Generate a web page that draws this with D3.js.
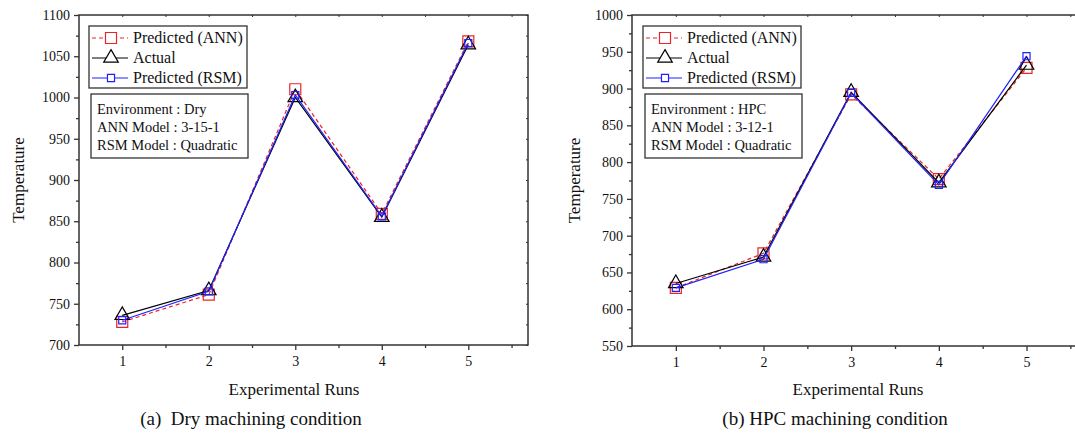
<!DOCTYPE html>
<html>
<head>
<meta charset="utf-8">
<script src="https://cdn.jsdelivr.net/npm/d3@7"></script>
<style>
  body { margin: 0; background: #fff; }
  svg text { font-family: "Liberation Serif", "Times New Roman", Times, serif !important; }
</style>
</head>
<body>
<svg id="chart" width="1075" height="433"></svg>
<script>
// experimental runs
var runs = [1, 2, 3, 4, 5];

// (a) dry machining
var dryAnn = [728, 761, 1010, 859, 1068];
var dryActual = [736, 766, 1000, 855, 1064];
var dryRsm = [730, 765, 1003, 856, 1066];

// (b) HPC machining
var hpcAnn = [629, 676, 892, 777, 928];
var hpcActual = [635, 671, 895, 772, 932];
var hpcRsm = [629, 668, 894, 769, 944];

var seriesNames = ["Predicted (ANN)", "Actual", "Predicted (RSM)"];
var dryInfo = ["Environment : Dry", "ANN Model : 3-15-1", "RSM Model : Quadratic"];
var hpcInfo = ["Environment : HPC", "ANN Model : 3-12-1", "RSM Model : Quadratic"];
var dryTicks = [700, 750, 800, 850, 900, 950, 1000, 1050, 1100];
var hpcTicks = [550, 600, 650, 700, 750, 800, 850, 900, 950, 1000];

var FONT = "'Liberation Serif', 'Times New Roman', Times, serif";
var svg = d3.select("#chart");

var styles = [
  {color: "#e8262a", dash: "4,3", sym: d3.symbolSquare, size: 121},
  {color: "#000000", dash: null, sym: d3.symbolTriangle, size: 92},
  {color: "#2020ff", dash: null, sym: d3.symbolSquare, size: 50}
];

function drawPanel(opt) {
  var x = d3.scaleLinear().domain([0.5, 5.69]).range([opt.left, opt.right]);
  var y = d3.scaleLinear().domain(opt.yDomain).range([opt.bottom, opt.top]);
  var g = svg.append("g").attr("font-family", FONT);

  // frame
  g.append("rect")
    .attr("x", opt.left).attr("y", opt.top)
    .attr("width", opt.right - opt.left).attr("height", opt.bottom - opt.top)
    .attr("fill", "none").attr("stroke", "#333").attr("stroke-width", 1.5);

  var minorY = d3.range(opt.yDomain[0] + 25, opt.yDomain[1], 50);
  var minorX = [1.5, 2.5, 3.5, 4.5, 5.5];

  // left axis
  var ay = g.append("g").attr("transform", "translate(" + opt.left + ",0)")
    .call(d3.axisLeft(y).tickValues(opt.ticks).tickSize(5).tickPadding(4).tickFormat(d3.format("d")));
  ay.attr("font-family", FONT);
  ay.select(".domain").remove();
  ay.selectAll("line").attr("stroke", "#333").attr("stroke-width", 1.3);
  ay.selectAll("text").attr("font-size", 14).attr("fill", "#111");
  g.append("g").attr("transform", "translate(" + opt.left + ",0)")
    .call(d3.axisLeft(y).tickValues(minorY).tickSize(3).tickFormat(""))
    .call(function(s) { s.select(".domain").remove(); s.selectAll("line").attr("stroke", "#333").attr("stroke-width", 1.3); });

  // bottom axis
  var ax = g.append("g").attr("transform", "translate(0," + opt.bottom + ")")
    .call(d3.axisBottom(x).tickValues(runs).tickSize(5).tickPadding(6).tickFormat(d3.format("d")));
  ax.attr("font-family", FONT);
  ax.select(".domain").remove();
  ax.selectAll("line").attr("stroke", "#333").attr("stroke-width", 1.3);
  ax.selectAll("text").attr("font-size", 14).attr("fill", "#111");
  g.append("g").attr("transform", "translate(0," + opt.bottom + ")")
    .call(d3.axisBottom(x).tickValues(minorX).tickSize(3).tickFormat(""))
    .call(function(s) { s.select(".domain").remove(); s.selectAll("line").attr("stroke", "#333").attr("stroke-width", 1.3); });

  // mirror ticks top / right
  g.append("g").attr("transform", "translate(0," + opt.top + ")")
    .call(d3.axisBottom(x).tickValues(runs.concat(minorX)).tickSize(2).tickFormat(""))
    .call(function(s) { s.select(".domain").remove(); s.selectAll("line").attr("stroke", "#333"); });
  g.append("g").attr("transform", "translate(" + opt.right + ",0)")
    .call(d3.axisLeft(y).tickValues(opt.ticks.concat(minorY)).tickSize(2).tickFormat(""))
    .call(function(s) { s.select(".domain").remove(); s.selectAll("line").attr("stroke", "#333"); });

  // axis titles
  g.append("text")
    .attr("transform", "translate(" + opt.yTitleX + "," + ((opt.top + opt.bottom) / 2) + ") rotate(-90)")
    .attr("text-anchor", "middle").attr("font-size", 17).attr("fill", "#111")
    .text("Temperature");
  g.append("text")
    .attr("x", opt.xTitleX).attr("y", 395)
    .attr("text-anchor", "middle").attr("font-size", 17).attr("fill", "#111")
    .text("Experimental Runs");
  g.append("text")
    .attr("x", opt.captionX).attr("y", 425)
    .attr("text-anchor", "middle").attr("font-size", 19).attr("fill", "#111")
    .style("white-space", "pre")
    .text(opt.caption);

  // series
  var line = d3.line().x(function(d, i) { return x(runs[i]); }).y(function(d) { return y(d); });
  opt.series.forEach(function(vals, k) {
    var st = styles[k];
    g.append("path").datum(vals)
      .attr("d", line).attr("fill", "none")
      .attr("stroke", st.color).attr("stroke-width", 1.2)
      .attr("stroke-dasharray", st.dash);
    g.selectAll(null).data(vals).enter().append("path")
      .attr("d", d3.symbol(st.sym, st.size))
      .attr("transform", function(d, i) { return "translate(" + x(runs[i]) + "," + y(d) + ")"; })
      .attr("fill", "none").attr("stroke", st.color).attr("stroke-width", 1.2);
  });

  // legend
  var lg = g.append("g");
  lg.append("rect").attr("x", opt.legX).attr("y", 26).attr("width", 158).attr("height", 62)
    .attr("fill", "#fff").attr("stroke", "#333").attr("stroke-width", 1.3);
  seriesNames.forEach(function(name, k) {
    var st = styles[k];
    var ry = 38 + k * 20;
    lg.append("line")
      .attr("x1", opt.legX + 3).attr("x2", opt.legX + 39).attr("y1", ry).attr("y2", ry)
      .attr("stroke", st.color).attr("stroke-width", 1.2).attr("stroke-dasharray", st.dash);
    lg.append("path")
      .attr("d", d3.symbol(st.sym, st.size))
      .attr("transform", "translate(" + (opt.legX + 22) + "," + ry + ")")
      .attr("fill", "#fff").attr("stroke", st.color).attr("stroke-width", 1.2);
    lg.append("text").attr("x", opt.legX + 44).attr("y", ry + 5)
      .attr("font-size", 16).attr("fill", "#111").text(name);
  });

  // info box
  lg.append("rect").attr("x", opt.legX + 2).attr("y", 94).attr("width", 157).attr("height", 64)
    .attr("fill", "#fff").attr("stroke", "#333").attr("stroke-width", 1.3);
  opt.info.forEach(function(t, i) {
    lg.append("text").attr("x", opt.legX + 8).attr("y", 114 + i * 18)
      .attr("font-size", 14.5).attr("fill", "#111").text(t);
  });
}

drawPanel({
  left: 79, right: 528, top: 15, bottom: 345,
  yDomain: [700, 1100], ticks: dryTicks,
  series: [dryAnn, dryActual, dryRsm],
  info: dryInfo, legX: 89,
  yTitleX: 24, xTitleX: 294, captionX: 251,
  caption: "(a)  Dry machining condition"
});

drawPanel({
  left: 632, right: 1087, top: 15, bottom: 346,
  yDomain: [550, 1000], ticks: hpcTicks,
  series: [hpcAnn, hpcActual, hpcRsm],
  info: hpcInfo, legX: 643,
  yTitleX: 580, xTitleX: 858, captionX: 835,
  caption: "(b) HPC machining condition"
});
</script>
</body>
</html>
